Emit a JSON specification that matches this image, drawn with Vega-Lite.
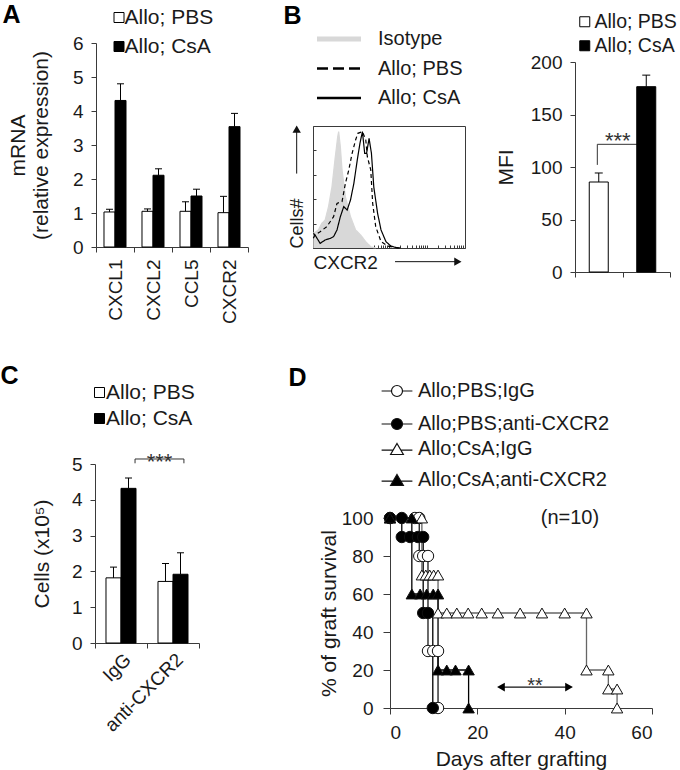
{
"$schema": "https://vega.github.io/schema/vega-lite/v6.json",
"width": 680, "height": 770,
"autosize": {"type": "none"},
"padding": 0,
"background": "#ffffff",
"config": {
  "font": "Liberation Sans",
  "view": {"stroke": null},
  "axis": {"grid": false, "labelFont": "Liberation Sans", "titleFont": "Liberation Sans", "labelFontSize": 19, "titleFontSize": 21, "titleFontWeight": "normal", "labelColor": "#1a1a1a", "titleColor": "#1a1a1a", "domainColor": "#3a3a3a", "tickColor": "#3a3a3a", "tickSize": 5, "labelPadding": 8, "domainWidth": 1, "tickWidth": 1},
  "legend": {"labelFont": "Liberation Sans", "labelFontSize": 20, "labelColor": "#1a1a1a", "padding": 0, "labelLimit": 400},
  "text": {"font": "Liberation Sans", "color": "#1a1a1a"}
},
"datasets": {
  "mrna": [
    {"gene": "CXCL1", "group": "Allo; PBS", "value": 1.03, "err": 1.11},
    {"gene": "CXCL1", "group": "Allo; CsA", "value": 4.31, "err": 4.80},
    {"gene": "CXCL2", "group": "Allo; PBS", "value": 1.05, "err": 1.12},
    {"gene": "CXCL2", "group": "Allo; CsA", "value": 2.11, "err": 2.30},
    {"gene": "CCL5", "group": "Allo; PBS", "value": 1.05, "err": 1.33},
    {"gene": "CCL5", "group": "Allo; CsA", "value": 1.50, "err": 1.70},
    {"gene": "CXCR2", "group": "Allo; PBS", "value": 1.01, "err": 1.49},
    {"gene": "CXCR2", "group": "Allo; CsA", "value": 3.54, "err": 3.93}
  ],
  "mfi": [
    {"group": "Allo; PBS", "value": 85.7, "err": 94.3},
    {"group": "Allo; CsA", "value": 176.5, "err": 187.5}
  ],
  "mfi_sig": [{"label": "***"}],
  "cells": [
    {"cond": "IgG", "group": "Allo; PBS", "value": 1.82, "err": 2.12},
    {"cond": "IgG", "group": "Allo; CsA", "value": 4.32, "err": 4.61},
    {"cond": "anti-CXCR2", "group": "Allo; PBS", "value": 1.72, "err": 2.22},
    {"cond": "anti-CXCR2", "group": "Allo; CsA", "value": 1.92, "err": 2.52}
  ],
  "cells_sig": [{"label": "***"}],
  "flow_note": [{"note": "axis arrows"}],
  "flow": [
    {"s": "Isotype", "x": 1.02, "y": 12}, {"s": "Isotype", "x": 1.39, "y": 14.8}, {"s": "Isotype", "x": 1.7, "y": 20.2},
    {"s": "Isotype", "x": 2.09, "y": 23}, {"s": "Isotype", "x": 2.56, "y": 33.9}, {"s": "Isotype", "x": 3.15, "y": 50},
    {"s": "Isotype", "x": 3.86, "y": 74.8}, {"s": "Isotype", "x": 4.46, "y": 91.2}, {"s": "Isotype", "x": 4.74, "y": 95.4},
    {"s": "Isotype", "x": 5.25, "y": 83}, {"s": "Isotype", "x": 5.81, "y": 64}, {"s": "Isotype", "x": 7.13, "y": 42},
    {"s": "Isotype", "x": 9.7, "y": 25.7}, {"s": "Isotype", "x": 13.2, "y": 14.8}, {"s": "Isotype", "x": 17.9, "y": 10.7},
    {"s": "Isotype", "x": 24.4, "y": 5.2}, {"s": "Isotype", "x": 33.1, "y": 1}, {"s": "Isotype", "x": 44.7, "y": 0},
    {"s": "Allo; PBS", "x": 1.02, "y": 8}, {"s": "Allo; PBS", "x": 1.13, "y": 10.7}, {"s": "Allo; PBS", "x": 1.54, "y": 13.4},
    {"s": "Allo; PBS", "x": 2.31, "y": 17.5}, {"s": "Allo; PBS", "x": 3.48, "y": 25.7}, {"s": "Allo; PBS", "x": 4.28, "y": 36.6},
    {"s": "Allo; PBS", "x": 5.81, "y": 38}, {"s": "Allo; PBS", "x": 7.13, "y": 53}, {"s": "Allo; PBS", "x": 8.75, "y": 64},
    {"s": "Allo; PBS", "x": 10.7, "y": 77.6}, {"s": "Allo; PBS", "x": 13.2, "y": 88.5}, {"s": "Allo; PBS", "x": 15.1, "y": 94},
    {"s": "Allo; PBS", "x": 20, "y": 95.4}, {"s": "Allo; PBS", "x": 24.5, "y": 88.5}, {"s": "Allo; PBS", "x": 26.9, "y": 74.8},
    {"s": "Allo; PBS", "x": 33.1, "y": 64}, {"s": "Allo; PBS", "x": 37.2, "y": 36.6}, {"s": "Allo; PBS", "x": 44.7, "y": 17.5},
    {"s": "Allo; PBS", "x": 61.7, "y": 5.2}, {"s": "Allo; PBS", "x": 91.2, "y": 1.6}, {"s": "Allo; PBS", "x": 135, "y": 0.5},
    {"s": "Allo; PBS", "x": 200, "y": 0},
    {"s": "Allo; CsA", "x": 1.02, "y": 12}, {"s": "Allo; CsA", "x": 1.13, "y": 10.7}, {"s": "Allo; CsA", "x": 1.54, "y": 3.8},
    {"s": "Allo; CsA", "x": 2.09, "y": 6.6}, {"s": "Allo; CsA", "x": 2.84, "y": 7.9}, {"s": "Allo; CsA", "x": 3.48, "y": 9.3},
    {"s": "Allo; CsA", "x": 4.28, "y": 14.8}, {"s": "Allo; CsA", "x": 5.25, "y": 25.7}, {"s": "Allo; CsA", "x": 6.44, "y": 33.9},
    {"s": "Allo; CsA", "x": 7.91, "y": 31.1}, {"s": "Allo; CsA", "x": 9.7, "y": 39.3}, {"s": "Allo; CsA", "x": 11.9, "y": 53},
    {"s": "Allo; CsA", "x": 14.6, "y": 72}, {"s": "Allo; CsA", "x": 17.2, "y": 85.8}, {"s": "Allo; CsA", "x": 20, "y": 95.4},
    {"s": "Allo; CsA", "x": 22.9, "y": 77.6}, {"s": "Allo; CsA", "x": 25.7, "y": 77.6}, {"s": "Allo; CsA", "x": 29.9, "y": 89.9},
    {"s": "Allo; CsA", "x": 34.5, "y": 77.6}, {"s": "Allo; CsA", "x": 39.8, "y": 50}, {"s": "Allo; CsA", "x": 50.1, "y": 28.4},
    {"s": "Allo; CsA", "x": 61.7, "y": 14.8}, {"s": "Allo; CsA", "x": 83.2, "y": 5.2}, {"s": "Allo; CsA", "x": 112, "y": 1.6},
    {"s": "Allo; CsA", "x": 155, "y": 0.3}, {"s": "Allo; CsA", "x": 200, "y": 0}
  ],
  "km": [
    {"series": "Allo;PBS;IgG", "day": 0, "surv": 100}, {"series": "Allo;PBS;IgG", "day": 5.7, "surv": 100},
    {"series": "Allo;PBS;IgG", "day": 6.7, "surv": 100}, {"series": "Allo;PBS;IgG", "day": 6.7, "surv": 80},
    {"series": "Allo;PBS;IgG", "day": 7.6, "surv": 80}, {"series": "Allo;PBS;IgG", "day": 8.7, "surv": 80},
    {"series": "Allo;PBS;IgG", "day": 8.7, "surv": 30}, {"series": "Allo;PBS;IgG", "day": 9.9, "surv": 30},
    {"series": "Allo;PBS;IgG", "day": 11, "surv": 30}, {"series": "Allo;PBS;IgG", "day": 11, "surv": 0},
    {"series": "Allo;PBS;anti-CXCR2", "day": 0, "surv": 100}, {"series": "Allo;PBS;anti-CXCR2", "day": 2.7, "surv": 100},
    {"series": "Allo;PBS;anti-CXCR2", "day": 2.7, "surv": 90}, {"series": "Allo;PBS;anti-CXCR2", "day": 4.6, "surv": 90},
    {"series": "Allo;PBS;anti-CXCR2", "day": 6.4, "surv": 90}, {"series": "Allo;PBS;anti-CXCR2", "day": 7.6, "surv": 90},
    {"series": "Allo;PBS;anti-CXCR2", "day": 7.6, "surv": 50}, {"series": "Allo;PBS;anti-CXCR2", "day": 8.7, "surv": 50},
    {"series": "Allo;PBS;anti-CXCR2", "day": 9.8, "surv": 0},
    {"series": "Allo;CsA;IgG", "day": 0, "surv": 100}, {"series": "Allo;CsA;IgG", "day": 7.3, "surv": 100},
    {"series": "Allo;CsA;IgG", "day": 7.3, "surv": 70}, {"series": "Allo;CsA;IgG", "day": 8.2, "surv": 70},
    {"series": "Allo;CsA;IgG", "day": 9.1, "surv": 70}, {"series": "Allo;CsA;IgG", "day": 10, "surv": 70},
    {"series": "Allo;CsA;IgG", "day": 11, "surv": 70}, {"series": "Allo;CsA;IgG", "day": 11, "surv": 50},
    {"series": "Allo;CsA;IgG", "day": 13, "surv": 50}, {"series": "Allo;CsA;IgG", "day": 15.3, "surv": 50},
    {"series": "Allo;CsA;IgG", "day": 17.9, "surv": 50}, {"series": "Allo;CsA;IgG", "day": 21, "surv": 50},
    {"series": "Allo;CsA;IgG", "day": 24.7, "surv": 50}, {"series": "Allo;CsA;IgG", "day": 29.8, "surv": 50},
    {"series": "Allo;CsA;IgG", "day": 34.8, "surv": 50}, {"series": "Allo;CsA;IgG", "day": 40, "surv": 50},
    {"series": "Allo;CsA;IgG", "day": 45, "surv": 50}, {"series": "Allo;CsA;IgG", "day": 45, "surv": 20},
    {"series": "Allo;CsA;IgG", "day": 50, "surv": 20}, {"series": "Allo;CsA;IgG", "day": 50, "surv": 10},
    {"series": "Allo;CsA;IgG", "day": 52, "surv": 10}, {"series": "Allo;CsA;IgG", "day": 52, "surv": 0},
    {"series": "Allo;CsA;anti-CXCR2", "day": 0, "surv": 100}, {"series": "Allo;CsA;anti-CXCR2", "day": 5, "surv": 100},
    {"series": "Allo;CsA;anti-CXCR2", "day": 5, "surv": 60}, {"series": "Allo;CsA;anti-CXCR2", "day": 6.9, "surv": 60},
    {"series": "Allo;CsA;anti-CXCR2", "day": 8.4, "surv": 60}, {"series": "Allo;CsA;anti-CXCR2", "day": 9.9, "surv": 60},
    {"series": "Allo;CsA;anti-CXCR2", "day": 11, "surv": 60}, {"series": "Allo;CsA;anti-CXCR2", "day": 11, "surv": 20},
    {"series": "Allo;CsA;anti-CXCR2", "day": 13, "surv": 20}, {"series": "Allo;CsA;anti-CXCR2", "day": 15, "surv": 20},
    {"series": "Allo;CsA;anti-CXCR2", "day": 18, "surv": 20}, {"series": "Allo;CsA;anti-CXCR2", "day": 18, "surv": 0}
  ],
  "km_note": [{"sig": "**", "n": "(n=10)"}]
},
"resolve": {
  "scale": {"x": "independent", "y": "independent", "xOffset": "independent", "fill": "independent", "stroke": "independent", "strokeDash": "independent", "shape": "independent"},
  "axis": {"x": "independent", "y": "independent"},
  "legend": {"fill": "independent", "stroke": "independent", "strokeDash": "independent", "shape": "independent"}
},
"layer": [
  {
    "data": {"name": "mrna"},
    "layer": [
      {"mark": {"type": "bar", "stroke": "#000000", "strokeWidth": 1},
       "encoding": {
         "x": {"field": "gene", "type": "nominal", "scale": {"domain": ["CXCL1", "CXCL2", "CCL5", "CXCR2"], "range": [96, 248], "paddingInner": 0, "paddingOuter": 0},
               "axis": {"orient": "bottom", "offset": -523, "labelAngle": -90, "labelPadding": 7, "tickBand": "extent", "labels": true, "ticks": true, "domain": true, "title": "A", "titleX": 2, "titleY": -225, "titleAngle": 0, "titleAlign": "left", "titleBaseline": "alphabetic", "titleFontSize": 25, "titleFontWeight": "bold", "titleColor": "#000000"}},
         "y": {"field": "value", "type": "quantitative", "scale": {"domain": [0, 6], "range": [247, 43], "nice": false},
               "axis": {"orient": "left", "offset": -96, "values": [0, 1, 2, 3, 4, 5, 6], "format": "d", "labels": true, "ticks": true, "domain": true, "title": ["mRNA", "(relative expression)"], "titlePadding": 21}},
         "xOffset": {"field": "group", "type": "nominal", "scale": {"domain": ["Allo; PBS", "Allo; CsA"], "paddingInner": 0, "paddingOuter": 0.727}},
         "fill": {"field": "group", "type": "nominal", "scale": {"domain": ["Allo; PBS", "Allo; CsA"], "range": ["#ffffff", "#000000"]},
                  "legend": {"orient": "none", "legendX": 108.5, "legendY": 7, "title": null, "symbolType": "square", "symbolSize": 100, "symbolStrokeColor": "#000000", "symbolStrokeWidth": 1, "labelFontSize": 21, "labelOffset": -5, "rowPadding": 7}}
       }},
      {"mark": {"type": "rule", "color": "#000000", "strokeWidth": 1},
       "encoding": {
         "x": {"field": "gene", "type": "nominal"},
         "xOffset": {"field": "group", "type": "nominal"},
         "y": {"field": "value", "type": "quantitative"},
         "y2": {"field": "err"}
       }},
      {"mark": {"type": "tick", "color": "#000000", "orient": "horizontal", "size": 7, "thickness": 1, "opacity": 1},
       "encoding": {
         "x": {"field": "gene", "type": "nominal"},
         "xOffset": {"field": "group", "type": "nominal"},
         "y": {"field": "err", "type": "quantitative"}
       }}
    ]
  },
  {
    "data": {"name": "flow"},
    "layer": [
      {"transform": [{"filter": "datum.s === 'Isotype'"}],
       "mark": {"type": "area", "color": "#d8d8d8", "opacity": 1},
       "encoding": {
         "x": {"field": "x", "type": "quantitative", "scale": {"type": "log", "domain": [1, 10000], "range": [313, 465], "nice": false},
               "axis": {"orient": "bottom", "offset": -522, "values": [1,2,3,4,5,6,7,8,9,10,20,30,40,50,60,70,80,90,100,200,300,400,500,600,700,800,900,1000,2000,3000,4000,5000,6000,7000,8000,9000,10000], "labels": false, "tickSize": -3, "title": "CXCR2", "titleAnchor": "start", "titleFontSize": 19, "titlePadding": 5}},
         "y": {"field": "y", "type": "quantitative", "scale": {"domain": [0, 100], "range": [248, 126], "nice": false},
               "axis": {"orient": "left", "offset": -313, "values": [0, 20, 40, 60, 80, 100], "labels": false, "tickSize": -3, "title": "Cells#", "titleAnchor": "start", "titleFontSize": 18, "titlePadding": 6}}
       }},
      {"mark": {"type": "line", "strokeWidth": 1.2},
       "encoding": {
         "x": {"field": "x", "type": "quantitative", "axis": {"orient": "top", "offset": -126, "labels": false, "ticks": false, "title": null}},
         "y": {"field": "y", "type": "quantitative", "axis": {"orient": "right", "offset": -215, "labels": false, "ticks": false, "title": null}},
         "stroke": {"field": "s", "type": "nominal", "scale": {"domain": ["Isotype", "Allo; PBS", "Allo; CsA"], "range": ["#d8d8d8", "#000000", "#000000"]},
                    "legend": {"orient": "none", "legendX": 329, "legendY": 29, "title": null, "symbolType": "M-2,0H2", "symbolSize": 484, "symbolStrokeWidth": 3, "labelOffset": 29, "rowPadding": 9.5, "labelFontSize": 20,
                               "encode": {"symbols": {"update": {"strokeWidth": {"signal": "datum.value === 'Isotype' ? 5 : 2.7"}, "strokeDash": {"signal": "datum.value === 'Allo; PBS' ? [11, 5] : [1, 0]"}}}}}},
         "strokeDash": {"field": "s", "type": "nominal", "scale": {"domain": ["Allo; PBS", "Allo; CsA", "Isotype"], "range": [[4, 3], [1, 0], [1, 0]]}, "legend": null}
       }},
      {"data": {"name": "flow_note"},
       "mark": {"type": "rule", "color": "#111111", "strokeWidth": 1},
       "encoding": {
         "x": {"datum": 0.372, "type": "quantitative", "axis": null},
         "y": {"datum": 61, "type": "quantitative", "axis": null},
         "y2": {"datum": 96}
       }},
      {"data": {"name": "flow_note"},
       "mark": {"type": "point", "shape": "triangle-up", "filled": true, "color": "#111111", "size": 70, "opacity": 1},
       "encoding": {
         "x": {"datum": 0.372, "type": "quantitative", "axis": null},
         "y": {"datum": 97.5, "type": "quantitative", "axis": null}
       }},
      {"data": {"name": "flow_note"},
       "mark": {"type": "rule", "color": "#111111", "strokeWidth": 1},
       "encoding": {
         "x": {"datum": 144, "type": "quantitative", "axis": null},
         "x2": {"datum": 6000},
         "y": {"datum": -11.2, "type": "quantitative", "axis": null}
       }},
      {"data": {"name": "flow_note"},
       "mark": {"type": "point", "shape": "triangle-right", "filled": true, "color": "#111111", "size": 70, "opacity": 1},
       "encoding": {
         "x": {"datum": 6500, "type": "quantitative", "axis": null},
         "y": {"datum": -11.2, "type": "quantitative", "axis": null}
       }}
    ]
  },
  {
    "data": {"name": "mfi"},
    "layer": [
      {"data": {"name": "mfi_sig"},
       "mark": {"type": "rule", "color": "#333333", "strokeWidth": 1},
       "encoding": {
         "x": {"datum": "Allo; PBS", "type": "nominal", "bandPosition": 0.47},
         "y": {"datum": 102, "type": "quantitative"},
         "y2": {"datum": 121.6}
       }},
      {"data": {"name": "mfi_sig"},
       "mark": {"type": "rule", "color": "#333333", "strokeWidth": 1},
       "encoding": {
         "x": {"datum": "Allo; PBS", "type": "nominal", "bandPosition": 0.47},
         "x2": {"datum": "Allo; CsA"},
         "y": {"datum": 121.6, "type": "quantitative"}
       }},
      {"data": {"name": "mfi_sig"},
       "mark": {"type": "text", "fontSize": 22, "baseline": "alphabetic", "align": "center", "color": "#333333"},
       "encoding": {
         "x": {"datum": "Allo; PBS", "type": "nominal", "bandPosition": 0.9},
         "y": {"datum": 118, "type": "quantitative"},
         "text": {"field": "label"}
       }},
      {"mark": {"type": "bar", "stroke": "#000000", "strokeWidth": 1, "width": {"band": 0.4}},
       "encoding": {
         "x": {"field": "group", "type": "nominal", "scale": {"domain": ["Allo; PBS", "Allo; CsA"], "range": [575, 670], "paddingInner": 0, "paddingOuter": 0},
               "axis": {"orient": "bottom", "offset": -498, "labels": false, "ticks": true, "domain": true, "tickBand": "extent", "title": "B", "titleX": 283, "titleY": -249, "titleAngle": 0, "titleAlign": "left", "titleBaseline": "alphabetic", "titleFontSize": 25, "titleFontWeight": "bold", "titleColor": "#000000"}},
         "y": {"field": "value", "type": "quantitative", "scale": {"domain": [0, 200], "range": [272, 62], "nice": false},
               "axis": {"orient": "left", "offset": -575, "values": [0, 50, 100, 150, 200], "format": "d", "labels": true, "ticks": true, "domain": true, "title": "MFI", "titlePadding": 14}},
         "fill": {"field": "group", "type": "nominal", "scale": {"domain": ["Allo; PBS", "Allo; CsA"], "range": ["#ffffff", "#000000"]},
                  "legend": {"orient": "none", "legendX": 575, "legendY": 12, "title": null, "symbolType": "square", "symbolSize": 100, "symbolStrokeColor": "#000000", "symbolStrokeWidth": 1, "labelFontSize": 19.5, "labelOffset": 0, "rowPadding": 3}}
       }},
      {"mark": {"type": "rule", "color": "#000000", "strokeWidth": 1},
       "encoding": {
         "x": {"field": "group", "type": "nominal"},
         "y": {"field": "value", "type": "quantitative"},
         "y2": {"field": "err"}
       }},
      {"mark": {"type": "tick", "color": "#000000", "orient": "horizontal", "size": 8, "thickness": 1, "opacity": 1},
       "encoding": {
         "x": {"field": "group", "type": "nominal"},
         "y": {"field": "err", "type": "quantitative"}
       }}
    ]
  },
  {
    "data": {"name": "cells"},
    "layer": [
      {"mark": {"type": "bar", "stroke": "#000000", "strokeWidth": 1},
       "encoding": {
         "x": {"field": "cond", "type": "nominal", "scale": {"domain": ["IgG", "anti-CXCR2"], "range": [95, 199], "paddingInner": 0, "paddingOuter": 0},
               "axis": {"orient": "bottom", "offset": -127, "labelAngle": -45, "labelPadding": 2, "labels": true, "ticks": true, "domain": true, "tickBand": "extent", "title": "C", "titleX": 0, "titleY": -260, "titleAngle": 0, "titleAlign": "left", "titleBaseline": "alphabetic", "titleFontSize": 25, "titleFontWeight": "bold", "titleColor": "#000000"}},
         "y": {"field": "value", "type": "quantitative", "scale": {"domain": [0, 5], "range": [643, 464], "nice": false},
               "axis": {"orient": "left", "offset": -95, "values": [0, 1, 2, 3, 4, 5], "format": "d", "labels": true, "ticks": true, "domain": true, "title": "Cells (x10⁵)", "titlePadding": 19}},
         "xOffset": {"field": "group", "type": "nominal", "scale": {"domain": ["Allo; PBS", "Allo; CsA"], "paddingInner": 0, "paddingOuter": 0.733}},
         "fill": {"field": "group", "type": "nominal", "scale": {"domain": ["Allo; PBS", "Allo; CsA"], "range": ["#ffffff", "#000000"]},
                  "legend": {"orient": "none", "legendX": 89, "legendY": 382, "title": null, "symbolType": "square", "symbolSize": 100, "symbolStrokeColor": "#000000", "symbolStrokeWidth": 1, "labelFontSize": 21, "labelOffset": -4, "rowPadding": 4}}
       }},
      {"mark": {"type": "rule", "color": "#000000", "strokeWidth": 1},
       "encoding": {
         "x": {"field": "cond", "type": "nominal"},
         "xOffset": {"field": "group", "type": "nominal"},
         "y": {"field": "value", "type": "quantitative"},
         "y2": {"field": "err"}
       }},
      {"mark": {"type": "tick", "color": "#000000", "orient": "horizontal", "size": 7, "thickness": 1, "opacity": 1},
       "encoding": {
         "x": {"field": "cond", "type": "nominal"},
         "xOffset": {"field": "group", "type": "nominal"},
         "y": {"field": "err", "type": "quantitative"}
       }},
      {"data": {"name": "cells_sig"},
       "mark": {"type": "rule", "color": "#333333", "strokeWidth": 1},
       "encoding": {
         "x": {"datum": "IgG", "type": "nominal", "bandPosition": 0.77},
         "x2": {"datum": "anti-CXCR2", "bandPosition": 0.71},
         "y": {"datum": 5.14, "type": "quantitative"}
       }},
      {"data": {"name": "cells_sig"},
       "mark": {"type": "rule", "color": "#333333", "strokeWidth": 1},
       "encoding": {
         "x": {"datum": "IgG", "type": "nominal", "bandPosition": 0.77},
         "y": {"datum": 5.02, "type": "quantitative"},
         "y2": {"datum": 5.14}
       }},
      {"data": {"name": "cells_sig"},
       "mark": {"type": "rule", "color": "#333333", "strokeWidth": 1},
       "encoding": {
         "x": {"datum": "anti-CXCR2", "type": "nominal", "bandPosition": 0.71},
         "y": {"datum": 5.02, "type": "quantitative"},
         "y2": {"datum": 5.14}
       }},
      {"data": {"name": "cells_sig"},
       "mark": {"type": "text", "fontSize": 22, "baseline": "alphabetic", "align": "center", "color": "#333333"},
       "encoding": {
         "x": {"datum": "anti-CXCR2", "type": "nominal", "bandPosition": 0.24},
         "y": {"datum": 4.86, "type": "quantitative"},
         "text": {"field": "label"}
       }}
    ]
  },
  {
    "data": {"name": "km"},
    "resolve": {"scale": {"fill": "independent"}, "legend": {"fill": "independent"}},
    "layer": [
      {"mark": {"type": "line", "interpolate": "step-after", "strokeWidth": 1.3},
       "encoding": {
         "x": {"field": "day", "type": "quantitative", "scale": {"domain": [0, 60], "range": [390, 652], "nice": false},
               "axis": {"orient": "bottom", "offset": -62, "values": [0, 20, 40, 60], "format": "d", "labels": true, "ticks": true, "domain": true, "title": "Days after grafting", "titlePadding": 6, "tickSize": 6, "labelPadding": 9}},
         "y": {"field": "surv", "type": "quantitative", "scale": {"domain": [0, 100], "range": [708, 518], "nice": false},
               "axis": {"orient": "left", "offset": -390, "values": [0, 20, 40, 60, 80, 100], "format": "d", "title": "% of graft survival", "tickSize": 7, "labelPadding": 10, "titlePadding": 2}},
         "stroke": {"field": "series", "type": "nominal", "scale": {"domain": ["Allo;CsA;anti-CXCR2", "Allo;CsA;IgG", "Allo;PBS;anti-CXCR2", "Allo;PBS;IgG"], "range": ["#000000", "#666666", "#000000", "#1a1a1a"]}, "legend": null}
       }},
      {"mark": {"type": "point", "filled": true, "stroke": "#111111", "strokeWidth": 1, "size": 130, "opacity": 1},
       "encoding": {
         "x": {"field": "day", "type": "quantitative"},
         "y": {"field": "surv", "type": "quantitative", "axis": null},
         "shape": {"field": "series", "type": "nominal", "scale": {"domain": ["Allo;CsA;IgG", "Allo;CsA;anti-CXCR2", "Allo;PBS;IgG", "Allo;PBS;anti-CXCR2"], "range": ["triangle-up", "triangle-up", "circle", "circle"]}, "legend": null},
         "fill": {"field": "series", "type": "nominal", "scale": {"domain": ["Allo;PBS;IgG", "Allo;PBS;anti-CXCR2", "Allo;CsA;IgG", "Allo;CsA;anti-CXCR2"], "range": ["#ffffff", "#000000", "#ffffff", "#000000"]},
                  "legend": {"orient": "none", "legendX": 385, "legendY": 379, "title": null, "values": ["Allo;PBS;IgG", "Allo;PBS;anti-CXCR2"], "symbolType": "M-1.4,0H-0.5M0.5,0H1.4M-0.5,0A0.5,0.5,0,1,1,0.5,0A0.5,0.5,0,1,1,-0.5,0Z", "symbolSize": 484, "symbolStrokeColor": "#111111", "symbolStrokeWidth": 1.2, "labelOffset": 9, "rowPadding": 11, "labelFontSize": 20}}
       }},
      {"mark": {"type": "point", "filled": true, "opacity": 0, "size": 10},
       "encoding": {
         "x": {"field": "day", "type": "quantitative"},
         "y": {"field": "surv", "type": "quantitative", "axis": null},
         "fill": {"field": "series", "type": "nominal", "scale": {"domain": ["Allo;PBS;IgG", "Allo;PBS;anti-CXCR2", "Allo;CsA;IgG", "Allo;CsA;anti-CXCR2"], "range": ["#ffffff", "#000000", "#ffffff", "#000000"]},
                  "legend": {"orient": "none", "legendX": 385, "legendY": 437, "title": null, "values": ["Allo;CsA;IgG", "Allo;CsA;anti-CXCR2"], "symbolType": "M-1.4,0.1H-0.35M0.35,0.1H1.4M0,-0.5L0.58,0.5L-0.58,0.5Z", "symbolSize": 484, "symbolOpacity": 1, "symbolStrokeColor": "#111111", "symbolStrokeWidth": 1.2, "labelOffset": 9, "rowPadding": 9, "labelFontSize": 20}}
       }},
      {"data": {"name": "km_note"},
       "mark": {"type": "rule", "color": "#111111", "strokeWidth": 1.2},
       "encoding": {
         "x": {"datum": 25, "type": "quantitative"},
         "x2": {"datum": 41.5},
         "y": {"datum": 11, "type": "quantitative",
               "axis": {"orient": "right", "offset": 0, "domain": false, "ticks": false, "labels": false, "title": "D", "titleX": -392, "titleY": 385, "titleAngle": 0, "titleAlign": "left", "titleBaseline": "alphabetic", "titleFontSize": 25, "titleFontWeight": "bold", "titleColor": "#000000"}}
       }},
      {"data": {"name": "km_note"},
       "mark": {"type": "point", "shape": "triangle-left", "filled": true, "color": "#000000", "size": 80, "opacity": 1},
       "encoding": {
         "x": {"datum": 25.4, "type": "quantitative"},
         "y": {"datum": 11, "type": "quantitative", "axis": null}
       }},
      {"data": {"name": "km_note"},
       "mark": {"type": "point", "shape": "triangle-right", "filled": true, "color": "#000000", "size": 80, "opacity": 1},
       "encoding": {
         "x": {"datum": 41.0, "type": "quantitative"},
         "y": {"datum": 11, "type": "quantitative", "axis": null}
       }},
      {"data": {"name": "km_note"},
       "mark": {"type": "text", "fontSize": 20, "baseline": "alphabetic", "align": "center", "color": "#333333"},
       "encoding": {
         "x": {"datum": 33.2, "type": "quantitative"},
         "y": {"datum": 8.6, "type": "quantitative", "axis": null},
         "text": {"field": "sig"}
       }},
      {"data": {"name": "km_note"},
       "mark": {"type": "text", "fontSize": 20, "baseline": "middle", "align": "center", "color": "#1a1a1a"},
       "encoding": {
         "x": {"datum": 41.2, "type": "quantitative"},
         "y": {"datum": 100, "type": "quantitative", "axis": null},
         "text": {"field": "n"}
       }}
    ]
  }
]
}
